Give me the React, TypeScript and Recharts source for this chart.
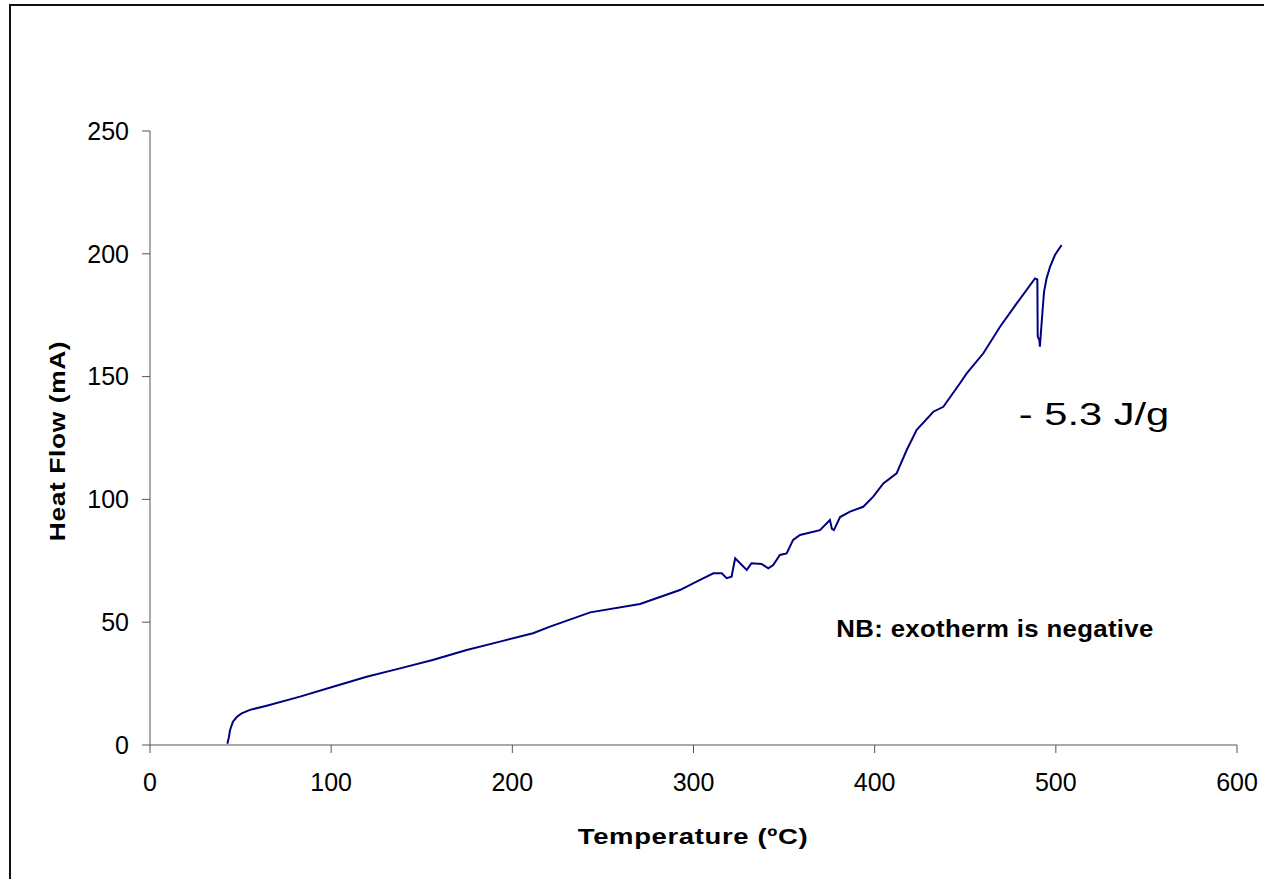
import { LineChart, Line, XAxis, YAxis } from 'recharts'

// temperature (ºC)
const TEMP = [
  42.7, 43.5, 44.2, 45.8, 48, 50.6, 55.2, 64.4, 82.8, 101, 119.6, 138, 156, 174.8, 193.2, 211.4, 220.8, 243,
  270.5, 292.5, 303.6, 311, 315.6, 318.3, 321, 323, 325.7, 329.4, 332, 337.6, 341.3, 344, 347.7, 351.4, 355,
  358.8, 369.8, 375.3, 376.4, 377.5, 380.9, 386.4, 393.7, 399.2, 404.8, 412.1, 417.7, 423.2, 432.4, 437.9,
  447.1, 450.8, 460, 469.2, 478.4, 488.5, 489.8, 490, 490.9, 491.2, 491.6, 492.7, 493.5, 494.9, 496.8, 499.5,
  503.2,
]
// heat flow (mA)
const HEAT_FLOW = [
  0.5, 3, 6.1, 9.5, 11.5, 12.9, 14.3, 16, 19.7, 23.7, 27.8, 31.2, 34.6, 38.7, 42.1, 45.5, 48.2, 54, 57.4, 63.1,
  67.2, 69.9, 69.9, 67.9, 68.5, 76, 74, 71.3, 74, 73.7, 71.9, 73.3, 77.4, 78, 83.5, 85.5, 87.5, 91.6, 88, 87.5,
  92.8, 95, 97, 101.1, 106.5, 110.6, 120.1, 128.3, 135.7, 137.7, 147.3, 151.3, 159.5, 170.3, 179.8, 190, 189.6,
  166.3, 164.9, 162.2, 166.3, 177.1, 184.6, 190, 194.7, 199.5, 203.6,
]
const X_TICKS = [0, 100, 200, 300, 400, 500, 600]
const Y_TICKS = [0, 50, 100, 150, 200, 250]

const data = TEMP.map((t, i) => ({ t, hf: HEAT_FLOW[i] }))

const FONT = '"Liberation Sans", Arial, sans-serif'
const AXIS = '#555'

export default function App() {
  return (
    <div
      style={{
        position: 'absolute',
        left: 0,
        top: 0,
        width: 1264,
        height: 879,
        overflow: 'hidden',
        background: 'white',
        fontFamily: FONT,
      }}
    >
      {/* chart frame, runs off the right and bottom edges */}
      <div
        style={{
          position: 'absolute',
          left: 9,
          top: 4,
          width: 1300,
          height: 900,
          border: '2px solid #111',
        }}
      />
      <div style={{ position: 'absolute', left: 0, top: 0 }}>
        <LineChart width={1264} height={879} data={data} margin={{ top: 131, right: 27, bottom: 74, left: 90 }}>
          <XAxis
            dataKey="t"
            type="number"
            domain={[0, 600]}
            ticks={X_TICKS}
            height={60}
            stroke={AXIS}
            tickSize={8}
            tickMargin={20}
            tick={{ fill: '#000', fontSize: 25, fontFamily: FONT }}
          />
          <YAxis
            type="number"
            domain={[0, 250]}
            ticks={Y_TICKS}
            width={60}
            stroke={AXIS}
            tickSize={8}
            tickMargin={13}
            tick={{ fill: '#000', fontSize: 25, fontFamily: FONT }}
          />
          <Line
            dataKey="hf"
            type="linear"
            stroke="#000080"
            strokeWidth={2}
            dot={false}
            isAnimationActive={false}
          />
        </LineChart>
      </div>

      <div
        style={{
          position: 'absolute',
          left: 693,
          top: 837,
          transform: 'translate(-50%, -50%) scaleX(1.25)',
          fontWeight: 'bold',
          fontSize: 22,
          whiteSpace: 'nowrap',
          letterSpacing: 0.5,
        }}
      >
        Temperature (ºC)
      </div>
      <div
        style={{
          position: 'absolute',
          left: 58,
          top: 441,
          transform: 'translate(-50%, -50%) rotate(-90deg) scaleX(1.2)',
          fontWeight: 'bold',
          fontSize: 22,
          whiteSpace: 'nowrap',
          letterSpacing: 0.5,
        }}
      >
        Heat Flow (mA)
      </div>
      <div
        style={{
          position: 'absolute',
          left: 995,
          top: 629,
          transform: 'translate(-50%, -50%) scaleX(1.12)',
          fontWeight: 'bold',
          fontSize: 23,
          whiteSpace: 'nowrap',
          letterSpacing: 0.3,
        }}
      >
        NB: exotherm is negative
      </div>
      <div
        style={{
          position: 'absolute',
          left: 1094,
          top: 414,
          transform: 'translate(-50%, -50%) scaleX(1.3)',
          fontSize: 32,
          whiteSpace: 'nowrap',
        }}
      >
        - 5.3 J/g
      </div>
    </div>
  )
}
